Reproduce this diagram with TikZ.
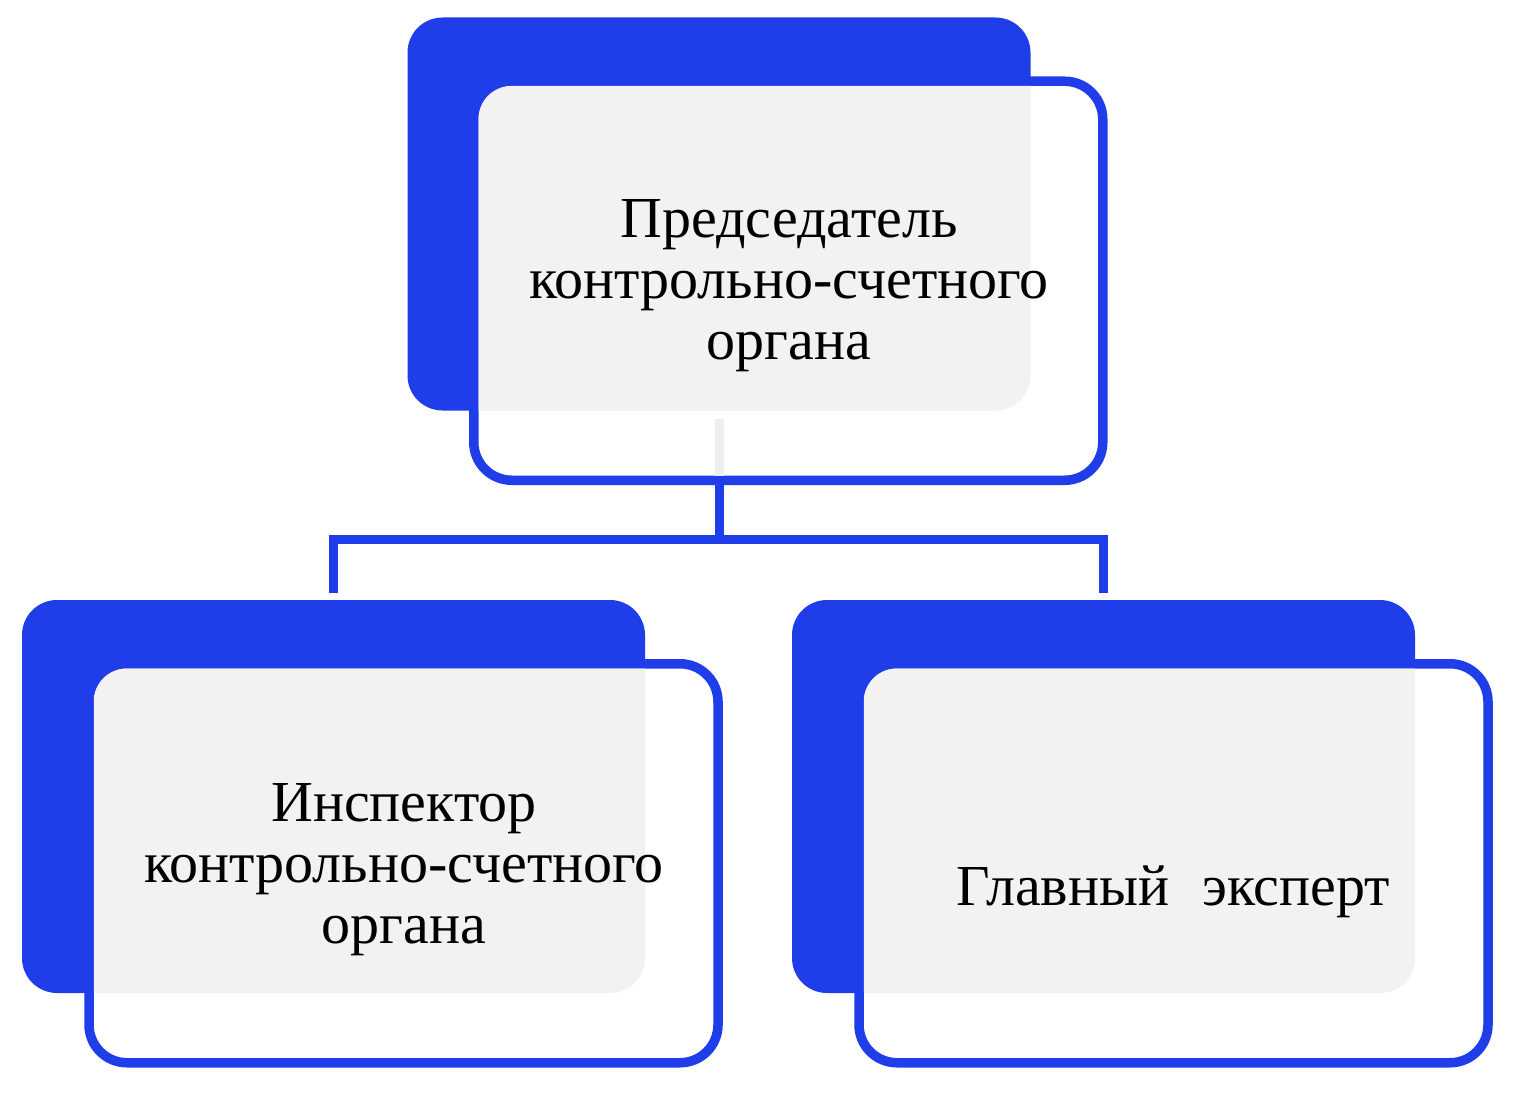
\documentclass[tikz,border=0pt]{standalone}
\usepackage{fontspec}
\setmainfont{Liberation Serif}
\usetikzlibrary{calc}
\definecolor{cblue}{HTML}{1F3DE9}
\definecolor{cgrey}{HTML}{F2F2F2}
\definecolor{cfaint}{HTML}{EFEFEF}
\begin{document}
\begin{tikzpicture}[x=1pt,y=-1pt,
  backbox/.style={fill=cblue, rounded corners=35pt, outer sep=0pt, inner sep=0pt, minimum width=623pt, minimum height=393pt},
  frontbox/.style={draw=cblue, line width=9.5pt, fill=white, rounded corners=38pt, outer sep=0pt, inner sep=0pt, minimum width=629pt, minimum height=399pt},
  conn/.style={draw=cblue, line width=9pt, line join=miter},
  faint/.style={draw=cfaint, line width=9pt},
  lbl/.style={font=\fontsize{58}{61}\selectfont, align=center, inner sep=0pt}]
\useasboundingbox (0,0) rectangle (1521,1094);

% connectors (drawn beneath the cards)
\coordinate (j) at (719,539);
\node[backbox, draw=none, fill=none] (pAg) at (719,214) {};
\node[backbox, draw=none, fill=none] (lAg) at (333.5,796.5) {};
\node[backbox, draw=none, fill=none] (rAg) at (1103.5,796.5) {};
\draw[conn] ([yshift=-8pt]pAg.south) -- (pAg.south |- j);
\draw[conn] ([yshift=7pt]lAg.north) -- (lAg.north |- j) -- (rAg.north |- j) -- ([yshift=7pt]rAg.north);

% top card
\node[backbox] (pA) at (719,214) {};
\node[frontbox] (pB) at (788.25,280.75) {};
\begin{scope}
  \clip[rounded corners=33pt] ([shift={(4.75,4.75)}]pB.north west) rectangle ([shift={(-4.75,-4.75)}]pB.south east);
  \fill[cgrey, rounded corners=35pt] (pA.north west) rectangle (pA.south east);
\end{scope}
\draw[faint] ([yshift=-8pt]pA.south) -- ([yshift=4.75pt]pA.south |- pB.south);

% left card
\node[backbox] (lA) at (333.5,796.5) {};
\node[frontbox] (lB) at (403.5,863.25) {};
\begin{scope}
  \clip[rounded corners=33pt] ([shift={(4.75,4.75)}]lB.north west) rectangle ([shift={(-4.75,-4.75)}]lB.south east);
  \fill[cgrey, rounded corners=35pt] (lA.north west) rectangle (lA.south east);
\end{scope}

% right card
\node[backbox] (rA) at (1103.5,796.5) {};
\node[frontbox] (rB) at (1173.5,863.25) {};
\begin{scope}
  \clip[rounded corners=33pt] ([shift={(4.75,4.75)}]rB.north west) rectangle ([shift={(-4.75,-4.75)}]rB.south east);
  \fill[cgrey, rounded corners=35pt] (rA.north west) rectangle (rA.south east);
\end{scope}

% labels
\node[lbl] (pT) at (789,286) {Председатель\\контрольно-счетного\\органа};
\node[lbl] (lT) at (404,870) {Инспектор\\контрольно-счетного\\органа};
\node[lbl] (rT) at (1173.5,892) {Главный~~\kern4pt эксперт};
\end{tikzpicture}
\end{document}
